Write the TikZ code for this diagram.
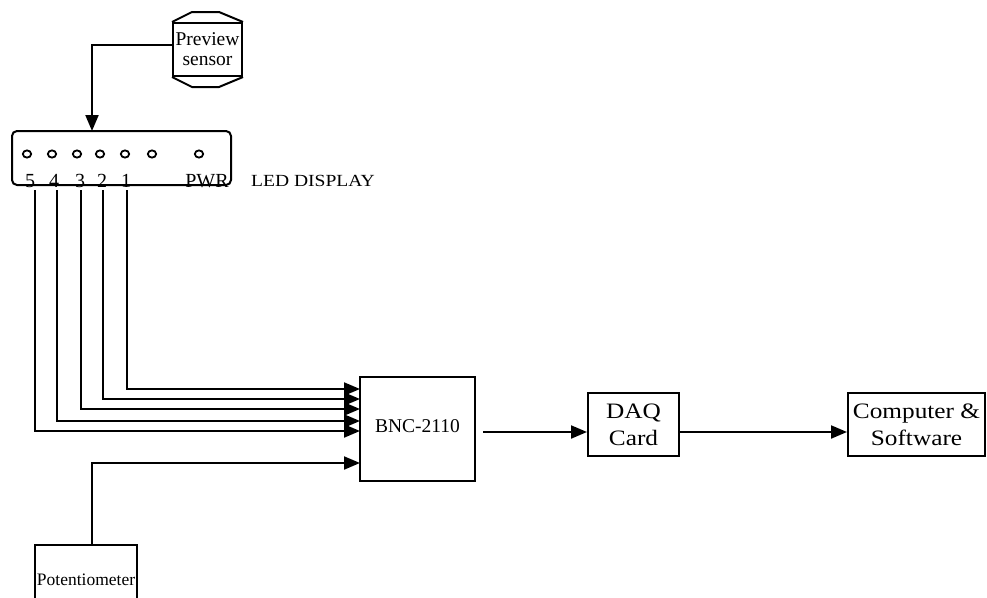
\documentclass[tikz,border=0pt]{standalone}
\usepackage{fontspec}
\setmainfont{Liberation Serif}
\newfontfamily\widefont{Liberation Serif}[FakeStretch=1.15]
\usetikzlibrary{arrows.meta}
\begin{document}
\begin{tikzpicture}[x=1pt,y=-1pt,line width=2pt,
  >={Triangle[length=16pt,width=13pt]},
  lbl/.style={inner sep=0pt,font=\fontsize{20}{20}\selectfont},
  boxn/.style={draw,inner sep=0pt,align=center},
  led/.style={line width=1.8pt,x radius=4.2pt,y radius=3.6pt}]
\useasboundingbox (0,0) rectangle (987,597);
% preview sensor
\node[boxn,minimum width=69pt,minimum height=53pt,font=\fontsize{19.5}{20}\selectfont] (ps) at (207.5,49.5) {Preview\\sensor};
\draw (ps.north west) -- ++(20,-10) -- ++(27,0) -- (ps.north east);
\draw (ps.south west) -- ++(20,10) -- ++(27,0) -- (ps.south east);
% LED display
\node[draw,rounded corners=5pt,minimum width=219pt,minimum height=54pt,inner sep=0pt] (ledbox) at (121.5,158) {};
\foreach \x in {27,52,77,100,125,152,199} \draw[led] (\x,154) ellipse [];
\node[lbl] (p5) at (30,181) {5};
\node[lbl] (p4) at (54,181) {4};
\node[lbl] (p3) at (80,181) {3};
\node[lbl] (p2) at (102,181) {2};
\node[lbl] (p1) at (126,181) {1};
\node[lbl] (pwr) at (207,181) {PWR};
\node[lbl,font=\widefont\fontsize{17}{17}\selectfont] (ledtxt) at (313,181) {LED DISPLAY};
\coordinate (ledin) at (92,131);
\draw[->] ([yshift=5pt]ps.west) -| (ledin);
% BNC
\node[boxn,minimum width=115pt,minimum height=104pt,font=\fontsize{19.5}{19.5}\selectfont] (bnc) at (417.5,429) {\raisebox{6pt}{BNC-2110}};
\coordinate (w1) at (127,190); \coordinate (b1) at (360,389);
\coordinate (w2) at (103,190); \coordinate (b2) at (360,399);
\coordinate (w3) at (81,190);  \coordinate (b3) at (360,409);
\coordinate (w4) at (57,190);  \coordinate (b4) at (360,421);
\coordinate (w5) at (35,190);  \coordinate (b5) at (360,431);
\coordinate (b6) at (360,463);
\foreach \i in {1,...,5} \draw[->] (w\i) |- (b\i);
% potentiometer
\node[boxn,minimum width=102pt,minimum height=70pt,font=\fontsize{17.5}{17.5}\selectfont] (pot) at (86,580) {Potentiometer};
\coordinate (potout) at (92,545);
\draw[->] (potout) |- (b6);
% DAQ and computer
\node[boxn,minimum width=91pt,minimum height=63pt,font=\widefont\fontsize{22}{27}\selectfont] (daq) at (633.5,424.5) {DAQ\\Card};
\node[boxn,minimum width=137pt,minimum height=63pt,font=\widefont\fontsize{22}{27}\selectfont] (comp) at (916.5,424.5) {Computer \&\\Software};
\coordinate (bout) at (483,432);
\draw[->] (bout) -- (daq.west |- bout);
\draw[->] (daq.east |- bout) -- (comp.west |- bout);
\end{tikzpicture}
\end{document}
